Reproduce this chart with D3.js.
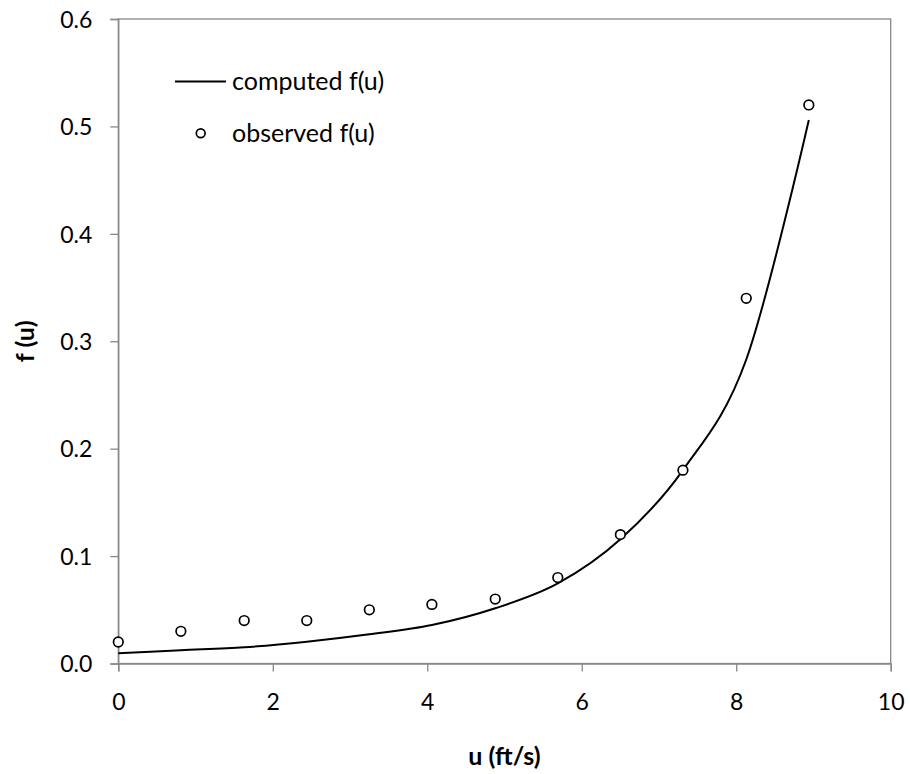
<!DOCTYPE html>
<html>
<head>
<meta charset="utf-8">
<script src="https://cdn.jsdelivr.net/npm/d3@7"></script>
<style>
	body { margin: 0; background: #fff; }
	text { font-family: Lato, "Open Sans", sans-serif; fill: #000; }
</style>
</head>
<body>
<div id="chart"></div>
<script>
// velocity values (ft/s)
var uValues = [0, 0.81, 1.63, 2.44, 3.25, 4.06, 4.88, 5.69, 6.5, 7.31, 8.13, 8.94];

// observed f(u)
var observed = [0.02, 0.03, 0.04, 0.04, 0.05, 0.055, 0.06, 0.08, 0.12, 0.18, 0.34, 0.52];

// computed f(u)
var computed = [0.0095, 0.0123, 0.0151, 0.0203, 0.0272, 0.0358, 0.0514, 0.0745, 0.1156, 0.18, 0.283, 0.506];

// tick labels
var xTicks = [0, 2, 4, 6, 8, 10];
var yTicks = [0, 0.1, 0.2, 0.3, 0.4, 0.5, 0.6];

var width = 910, height = 774;
var plot = { left: 118.3, right: 890.7, top: 19, bottom: 663.5 };
var axisColor = "#888888";

var svg = d3.select("#chart").append("svg")
	.attr("width", width)
	.attr("height", height);

var x = d3.scaleLinear().domain([0, 10]).range([plot.left, plot.right]);
var y = d3.scaleLinear().domain([0, 0.6]).range([plot.bottom, plot.top]);

// plot frame
svg.append("rect")
	.attr("x", plot.left)
	.attr("y", plot.top)
	.attr("width", plot.right - plot.left)
	.attr("height", plot.bottom - plot.top)
	.attr("fill", "none")
	.attr("stroke", axisColor)
	.attr("stroke-width", 1.3);

// x axis
var xAxis = svg.append("g")
	.attr("transform", "translate(0," + plot.bottom + ")")
	.call(d3.axisBottom(x).tickValues(xTicks).tickSize(8).tickPadding(22).tickFormat(d3.format("d")));

// y axis
var yAxis = svg.append("g")
	.attr("transform", "translate(" + plot.left + ",0)")
	.call(d3.axisLeft(y).tickValues(yTicks).tickSize(8).tickPadding(18).tickFormat(d3.format(".1f")));

[xAxis, yAxis].forEach(function (a) {
	a.select(".domain").attr("stroke", axisColor).attr("stroke-width", 1.3);
	a.selectAll(".tick line").attr("stroke", axisColor).attr("stroke-width", 1.3);
	a.selectAll(".tick text")
		.attr("font-family", "Lato, sans-serif")
		.attr("font-size", 23)
		.attr("fill", "#000");
});
yAxis.selectAll(".tick text").attr("dy", "0.36em");

// computed curve, smoothed like the spreadsheet line
var line = d3.line()
	.x(function (d, i) { return x(uValues[i]); })
	.y(function (d) { return y(d); })
	.curve(d3.curveCatmullRom.alpha(0));

svg.append("path")
	.datum(computed)
	.attr("d", line)
	.attr("fill", "none")
	.attr("stroke", "#000")
	.attr("stroke-width", 2);

// observed points
svg.append("g").selectAll("circle")
	.data(observed)
	.enter().append("circle")
	.attr("cx", function (d, i) { return x(uValues[i]); })
	.attr("cy", function (d) { return y(d); })
	.attr("r", 4.8)
	.attr("fill", "#fff")
	.attr("stroke", "#000")
	.attr("stroke-width", 1.7);

// legend
var legend = svg.append("g");
legend.append("line")
	.attr("x1", 175).attr("x2", 226)
	.attr("y1", 81.5).attr("y2", 81.5)
	.attr("stroke", "#000")
	.attr("stroke-width", 2);
legend.append("text")
	.attr("x", 232)
	.attr("y", 81.5)
	.attr("dy", "0.35em")
	.attr("font-size", 25)
	.text("computed f(u)");
legend.append("circle")
	.attr("cx", 200.7)
	.attr("cy", 133.3)
	.attr("r", 4.4)
	.attr("fill", "#fff")
	.attr("stroke", "#000")
	.attr("stroke-width", 1.7);
legend.append("text")
	.attr("x", 232)
	.attr("y", 133.3)
	.attr("dy", "0.35em")
	.attr("font-size", 25)
	.text("observed f(u)");

// axis titles
svg.append("text")
	.attr("x", (plot.left + plot.right) / 2)
	.attr("y", 756)
	.attr("dy", "0.35em")
	.attr("text-anchor", "middle")
	.attr("font-size", 25)
	.attr("font-weight", "bold")
	.text("u (ft/s)");

svg.append("text")
	.attr("transform", "translate(25," + ((plot.top + plot.bottom) / 2) + ") rotate(-90)")
	.attr("dy", "0.35em")
	.attr("text-anchor", "middle")
	.attr("font-size", 25)
	.attr("font-weight", "bold")
	.text("f (u)");
</script>
</body>
</html>
